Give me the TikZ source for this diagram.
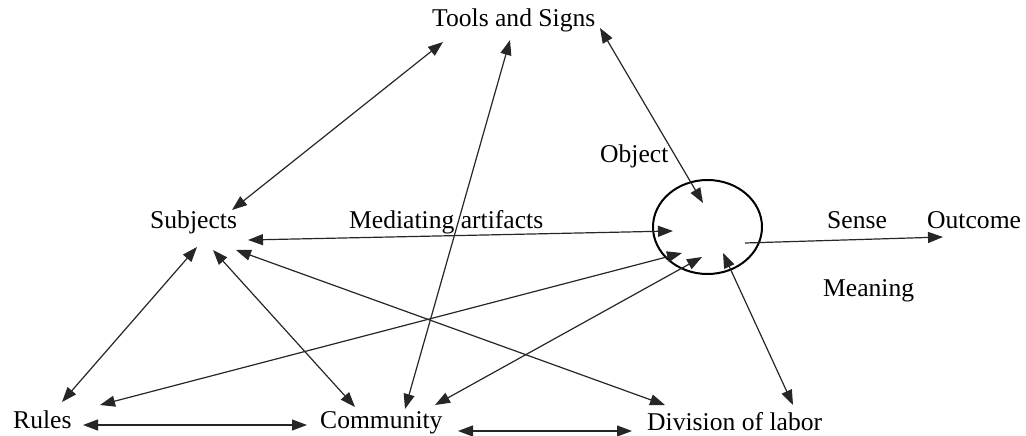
\documentclass[tikz,border=0pt]{standalone}
\usepackage{fontspec}
\setmainfont{Liberation Serif}
\usetikzlibrary{arrows.meta,shapes.geometric}
\begin{document}
\begin{tikzpicture}[x=1pt,y=-1pt,
  lbl/.style={anchor=base west,inner sep=0pt,font=\fontsize{25.6}{30}\selectfont},
  tip/.style={Triangle[length=15pt,width=11pt]},
  link/.style={line width=1.2pt,draw=black!85,{Triangle[length=15pt,width=11pt]}-{Triangle[length=15pt,width=11pt]}},
  onew/.style={line width=1.2pt,draw=black!85,-{Triangle[length=15pt,width=11pt]}}]
\useasboundingbox (0,0) rectangle (1026,436);
% labels
\node[lbl] (tools) at (432,27) {Tools and Signs};
\node[lbl] (subj) at (150,228) {Subjects};
\node[lbl] (med) at (349,228) {Mediating artifacts};
\node[lbl] (objl) at (600,162) {Object};
\node[lbl] (sense) at (827,228) {Sense};
\node[lbl] (outc) at (927,228) {Outcome};
\node[lbl] (mean) at (823,296) {Meaning};
\node[lbl] (rules) at (13,428) {Rules};
\node[lbl] (comm) at (320,428) {Community};
\node[lbl] (div) at (647,430) {Division of labor};
% object circle
\node[draw,line width=2pt,ellipse,minimum width=109pt,minimum height=94pt,inner sep=0pt] (obj) at (707.5,227) {};
% connector ends
\coordinate (t1) at (443,42); \coordinate (t2) at (510,40); \coordinate (t3) at (600,28);
\coordinate (s1) at (232,210); \coordinate (s2) at (248,240); \coordinate (s3) at (197,247);
\coordinate (s4) at (213,250); \coordinate (s5) at (236,250);
\coordinate (o1) at (703,203); \coordinate (o2) at (673,231); \coordinate (o3) at (682,253);
\coordinate (o4) at (702,257); \coordinate (o5) at (723,253); \coordinate (o6) at (745,243);
\coordinate (out) at (943,237);
\coordinate (r1) at (100,405); \coordinate (r2) at (62,402); \coordinate (r3) at (83,425);
\coordinate (c1) at (405,409); \coordinate (c2) at (435,405); \coordinate (c3) at (355,407);
\coordinate (c4) at (307,425); \coordinate (c5) at (458,431);
\coordinate (d1) at (793,405); \coordinate (d2) at (665,405); \coordinate (d3) at (632,431);
% connectors
\draw[link] (t1) -- (s1);
\draw[link] (t2) -- (c1);
\draw[link] (t3) -- (o1);
\draw[link] (s2) -- (o2);
\draw[link] (r1) -- (o3);
\draw[link] (c2) -- (o4);
\draw[link] (d1) -- (o5);
\draw[onew] (o6) -- (out);
\draw[link] (s3) -- (r2);
\draw[link] (s4) -- (c3);
\draw[link] (s5) -- (d2);
\draw[link] (r3) -- (c4);
\draw[link] (c5) -- (d3);
\end{tikzpicture}
\end{document}
